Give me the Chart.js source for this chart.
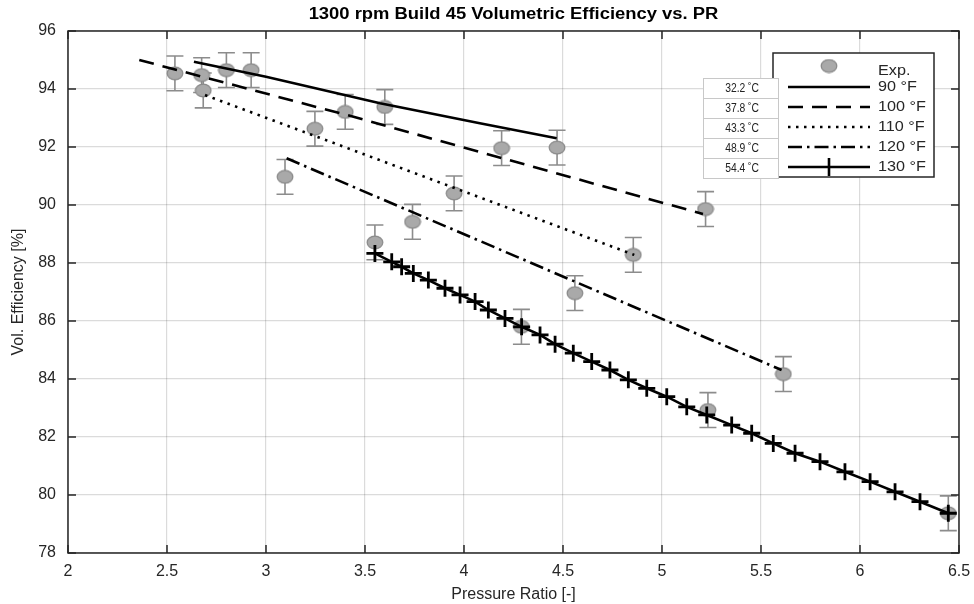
<!DOCTYPE html>
<html>
<head>
<meta charset="utf-8">
<script src="https://cdn.jsdelivr.net/npm/chart.js@4.4.0/dist/chart.umd.min.js"></script>
<style>
    body { margin: 0; background: #ffffff; }
    canvas { display: block; }
</style>
</head>
<body>
<canvas id="veChart" width="974" height="604"></canvas>
<script>
    // --- Data ---

    // Experimental points (with +/- error bars)
    const expPR  = [2.54, 2.675, 2.80, 2.925, 2.683, 3.096, 3.247, 3.40, 3.60, 3.55, 3.74, 3.95, 4.19, 4.29, 4.47, 4.56, 4.855, 5.22, 5.232, 5.613, 6.446];
    const expEff = [94.54, 94.48, 94.65, 94.65, 93.95, 90.97, 92.63, 93.21, 93.38, 88.71, 89.42, 90.40, 91.96, 85.80, 91.98, 86.96, 88.28, 89.86, 82.93, 84.17, 79.37];
    const expErr = [0.6, 0.6, 0.6, 0.6, 0.6, 0.6, 0.6, 0.6, 0.6, 0.6, 0.6, 0.6, 0.6, 0.6, 0.6, 0.6, 0.6, 0.6, 0.6, 0.6, 0.6];

    // Model lines per suction temperature
    const pr90   = [2.636, 3.0, 3.576, 4.08, 4.468];
    const eff90  = [94.94, 94.42, 93.51, 92.82, 92.30];
    const pr100  = [2.36, 3.41, 5.207];
    const eff100 = [95.0, 93.1, 89.69];
    const pr110  = [2.692, 4.86];
    const eff110 = [93.79, 88.28];
    const pr120  = [3.104, 5.604];
    const eff120 = [91.61, 84.31];
    const pr130  = [3.55, 3.635, 3.685, 3.744, 3.82, 3.904, 3.98, 4.056, 4.123, 4.207, 4.291, 4.384, 4.46, 4.552, 4.645, 4.737, 4.83, 4.923, 5.024, 5.125, 5.226, 5.352, 5.453, 5.562, 5.672, 5.798, 5.924, 6.051, 6.177, 6.303, 6.446];
    const eff130 = [88.33, 88.04, 87.87, 87.64, 87.41, 87.13, 86.90, 86.67, 86.38, 86.09, 85.80, 85.52, 85.20, 84.89, 84.60, 84.31, 83.97, 83.68, 83.39, 83.04, 82.76, 82.41, 82.13, 81.78, 81.44, 81.15, 80.80, 80.46, 80.11, 79.77, 79.37];

    // Text
    const legendLabels  = ['Exp.', '90 °F', '100 °F', '110 °F', '120 °F', '130 °F'];
    const celsiusLabels = ['32.2 ˚C', '37.8 ˚C', '43.3 ˚C', '48.9 ˚C', '54.4 ˚C'];
    const chartTitle = '1300 rpm Build 45 Volumetric Efficiency vs. PR';

    const toXY = (xs, ys) => xs.map((x, i) => ({ x: x, y: ys[i] }));
    const axisColor = '#262626';
    const fontFamily = "'Liberation Sans', Arial, sans-serif";

    // Grey elliptical marker like the MATLAB export
    const expMarker = document.createElement('canvas');
    expMarker.width = 18;
    expMarker.height = 15;
    (function () {
        const c = expMarker.getContext('2d');
        c.beginPath();
        c.ellipse(9, 7.5, 7.8, 6.4, 0, 0, Math.PI * 2);
        c.fillStyle = '#a9a9a9';
        c.fill();
        c.lineWidth = 1.3;
        c.strokeStyle = '#8a8a8a';
        c.stroke();
    })();

    const lineDefaults = { showLine: true, pointRadius: 0, borderColor: '#000', borderWidth: 2.6, tension: 0, fill: false, order: 1 };

    // text squeezed/stretched horizontally (the reference image is a bit wide)
    function wideText(ctx, text, x, y, sx) {
        ctx.save();
        ctx.translate(x, y);
        ctx.scale(sx, 1);
        ctx.fillText(text, 0, 0);
        ctx.restore();
    }

    // --- Plugin: error bars, axis box, inward ticks, title, legend, °C table ---
    const decorPlugin = {
        id: 'decor',
        beforeDatasetsDraw(chart) {
            const ctx = chart.ctx;
            const xs = chart.scales.x, ys = chart.scales.y;
            ctx.save();
            ctx.strokeStyle = '#8c8c8c';
            ctx.lineWidth = 1.6;
            expPR.forEach((pr, i) => {
                const px = xs.getPixelForValue(pr);
                const top = ys.getPixelForValue(expEff[i] + expErr[i]);
                const bot = ys.getPixelForValue(expEff[i] - expErr[i]);
                ctx.beginPath();
                ctx.moveTo(px, top); ctx.lineTo(px, bot);
                ctx.moveTo(px - 8.5, top); ctx.lineTo(px + 8.5, top);
                ctx.moveTo(px - 8.5, bot); ctx.lineTo(px + 8.5, bot);
                ctx.stroke();
            });
            ctx.restore();
        },
        afterDraw(chart) {
            const ctx = chart.ctx;
            const a = chart.chartArea;
            const xs = chart.scales.x, ys = chart.scales.y;
            ctx.save();

            // axis box + inward ticks
            ctx.strokeStyle = axisColor;
            ctx.lineWidth = 1.5;
            ctx.strokeRect(a.left, a.top, a.right - a.left, a.bottom - a.top);
            ctx.beginPath();
            xs.ticks.forEach(t => {
                const px = xs.getPixelForValue(t.value);
                ctx.moveTo(px, a.bottom); ctx.lineTo(px, a.bottom - 8);
                ctx.moveTo(px, a.top); ctx.lineTo(px, a.top + 8);
            });
            ys.ticks.forEach(t => {
                const py = ys.getPixelForValue(t.value);
                ctx.moveTo(a.left, py); ctx.lineTo(a.left + 8, py);
                ctx.moveTo(a.right, py); ctx.lineTo(a.right - 8, py);
            });
            ctx.stroke();

            // title
            ctx.fillStyle = '#000';
            ctx.font = 'bold 16px ' + fontFamily;
            ctx.textAlign = 'center';
            ctx.textBaseline = 'middle';
            wideText(ctx, chartTitle, (a.left + a.right) / 2, 15, 1.15);

            // legend box
            const lx = a.right - 186, ly = a.top + 22, lw = 161, lh = 124;
            ctx.fillStyle = '#fff';
            ctx.fillRect(lx, ly, lw, lh);
            ctx.strokeStyle = axisColor;
            ctx.lineWidth = 1.5;
            ctx.strokeRect(lx, ly, lw, lh);

            const rowY = [ly + 15, ly + 34, ly + 54, ly + 74, ly + 94, ly + 114];
            const s0 = lx + 15, s1 = lx + 97, sc = (s0 + s1) / 2;
            ctx.drawImage(expMarker, sc - 9, rowY[0] - 9.5);
            chart.data.datasets.slice(1).forEach((ds, k) => {
                const y = rowY[k + 1];
                ctx.strokeStyle = '#000';
                ctx.lineWidth = ds.borderWidth;
                ctx.setLineDash(ds.borderDash || []);
                ctx.beginPath();
                ctx.moveTo(s0, y); ctx.lineTo(s1, y);
                ctx.stroke();
                ctx.setLineDash([]);
                if (ds.pointStyle === 'cross') {
                    ctx.beginPath();
                    ctx.moveTo(sc, y - 9); ctx.lineTo(sc, y + 9);
                    ctx.stroke();
                }
            });
            ctx.fillStyle = axisColor;
            ctx.font = '15px ' + fontFamily;
            ctx.textAlign = 'left';
            legendLabels.forEach((lab, k) => wideText(ctx, lab, lx + 105, rowY[k] + (k === 0 ? 3 : 0), 1.08));

            // °C side table
            const tx = lx - 70, tw = 75, th = 20, ty = ly + 25;
            ctx.font = '12px ' + fontFamily;
            ctx.textAlign = 'right';
            celsiusLabels.forEach((lab, k) => {
                const y = ty + k * th;
                ctx.fillStyle = '#fff';
                ctx.fillRect(tx, y, tw, th);
                ctx.strokeStyle = '#c8c8c8';
                ctx.lineWidth = 1;
                ctx.strokeRect(tx + 0.5, y + 0.5, tw, th);
                ctx.fillStyle = '#222';
                wideText(ctx, lab, tx + 56, y + th / 2 + 1, 0.86);
            });

            ctx.restore();
        }
    };

    const ctx = document.getElementById('veChart').getContext('2d');
    const veChart = new Chart(ctx, {
        type: 'scatter',
        data: {
            datasets: [
                {
                    label: legendLabels[0],
                    data: toXY(expPR, expEff),
                    pointStyle: expMarker,
                    pointRadius: 8,
                    order: 5
                },
                Object.assign({}, lineDefaults, { label: legendLabels[1], data: toXY(pr90, eff90) }),
                Object.assign({}, lineDefaults, { label: legendLabels[2], data: toXY(pr100, eff100), borderDash: [15, 9] }),
                Object.assign({}, lineDefaults, { label: legendLabels[3], data: toXY(pr110, eff110), borderDash: [2.5, 5.5] }),
                Object.assign({}, lineDefaults, { label: legendLabels[4], data: toXY(pr120, eff120), borderDash: [14, 5, 2.5, 5] }),
                Object.assign({}, lineDefaults, {
                    label: legendLabels[5],
                    data: toXY(pr130, eff130),
                    pointStyle: 'cross',
                    pointRadius: 8.5,
                    pointBorderWidth: 2.8,
                    pointBorderColor: '#000',
                    order: 0
                })
            ]
        },
        options: {
            responsive: false,
            animation: false,
            devicePixelRatio: 1,
            layout: { padding: { left: 0, right: 15, top: 31, bottom: 0 } },
            plugins: {
                legend: { display: false },
                tooltip: { enabled: false },
                title: { display: false }
            },
            scales: {
                x: {
                    type: 'linear',
                    min: 2,
                    max: 6.5,
                    afterFit: (s) => { s.height = 51; s.paddingLeft = 0; s.paddingRight = 0; },
                    ticks: {
                        stepSize: 0.5,
                        padding: 9,
                        color: axisColor,
                        font: { family: fontFamily, size: 16 },
                        callback: (v) => String(v)
                    },
                    grid: { color: 'rgba(0,0,0,0.14)', lineWidth: 1.2, drawTicks: false },
                    border: { display: false },
                    title: {
                        display: true,
                        text: 'Pressure Ratio [-]',
                        color: axisColor,
                        font: { family: fontFamily, size: 16 },
                        padding: { top: 0, bottom: 0 }
                    }
                },
                y: {
                    min: 78,
                    max: 96,
                    afterFit: (s) => { s.width = 68; s.paddingTop = 0; s.paddingBottom = 0; },
                    ticks: {
                        stepSize: 2,
                        padding: 12,
                        color: axisColor,
                        font: { family: fontFamily, size: 16 }
                    },
                    grid: { color: 'rgba(0,0,0,0.14)', lineWidth: 1.2, drawTicks: false },
                    border: { display: false },
                    title: {
                        display: true,
                        text: 'Vol. Efficiency [%]',
                        color: axisColor,
                        font: { family: fontFamily, size: 16 },
                        padding: { top: 9, bottom: 0 }
                    }
                }
            }
        },
        plugins: [decorPlugin]
    });
</script>
</body>
</html>
